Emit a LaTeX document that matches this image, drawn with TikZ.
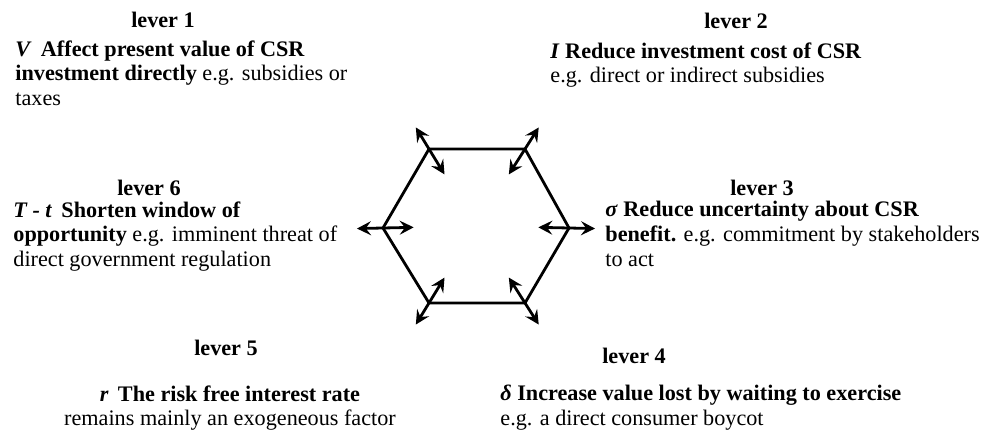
\documentclass[tikz,border=0pt]{standalone}
\usepackage{fontspec}
\setmainfont{Liberation Serif}
\usetikzlibrary{positioning, arrows.meta, calc}

\begin{document}
\begin{tikzpicture}[
      x=0.5pt, y=-0.5pt,
      title/.style={font=\fontsize{11.1}{12.4}\selectfont\bfseries, inner sep=0pt, anchor=base},
      desc/.style={font=\fontsize{11.1}{12.4}\selectfont, align=left, inner sep=0pt, anchor=north west},
      edge/.style={line width=1.4pt, line join=miter},
      arrow/.style={{Stealth[length=7pt,width=7pt,inset=2.6pt]}-{Stealth[length=7pt,width=7pt,inset=2.6pt]}, line width=1.4pt}
    ]
    \useasboundingbox (0,0) rectangle (996,433);

    % hexagon
    \coordinate (c) at (476,226);
    \coordinate (v1) at (429,149);
    \coordinate (v2) at (525,149);
    \coordinate (v3) at (569,228);
    \coordinate (v4) at (525,303);
    \coordinate (v5) at (429,303);
    \coordinate (v6) at (383,228);
    \draw[edge] (v1) -- (v2) -- (v3) -- (v4) -- (v5) -- (v6) -- cycle;

    % levers pointing in and out
    \foreach \i in {1,...,6} {
      \coordinate (out\i) at ($(c)!1.28!(v\i)$);
      \coordinate (in\i) at ($(c)!0.67!(v\i)$);
      \draw[arrow] (out\i) -- (in\i);
    }

    \node[title] (lev1) at (163,28) {lever 1};
    \node[desc] (desc1) at (15,40) {\textbf{\textit{V}\, Affect present value of CSR}\\
      \textbf{investment directly} e.g. subsidies or\\ taxes};

    \node[title] (lev2) at (736,29) {lever 2};
    \node[desc] (desc2) at (550,42) {\textbf{\textit{I} Reduce investment cost of CSR}\\
      e.g. direct or indirect subsidies};

    \node[title] (lev3) at (762,195) {lever 3};
    \node[desc] (desc3) at (605,201) {\textbf{\textit{σ} Reduce uncertainty about CSR}\\
      \textbf{benefit.} e.g. commitment by stakeholders\\ to act};

    \node[title] (lev4) at (634,363) {lever 4};
    \node[desc] (desc4) at (500,385) {\textbf{\textit{δ} Increase value lost by waiting to exercise}\\
      e.g. a direct consumer boycot};

    \node[title] (lev5) at (226,355) {lever 5};
    \node[desc, align=center, anchor=north] (desc5) at (230,385) {\textbf{\textit{r}\, The risk free interest rate}\\
      remains mainly an exogeneous factor};

    \node[title] (lev6) at (149,195) {lever 6};
    \node[desc] (desc6) at (13,201) {\textbf{\textit{T - t}\, Shorten window of}\\
      \textbf{opportunity} e.g. imminent threat of\\ direct government regulation};
  \end{tikzpicture}
\end{document}
